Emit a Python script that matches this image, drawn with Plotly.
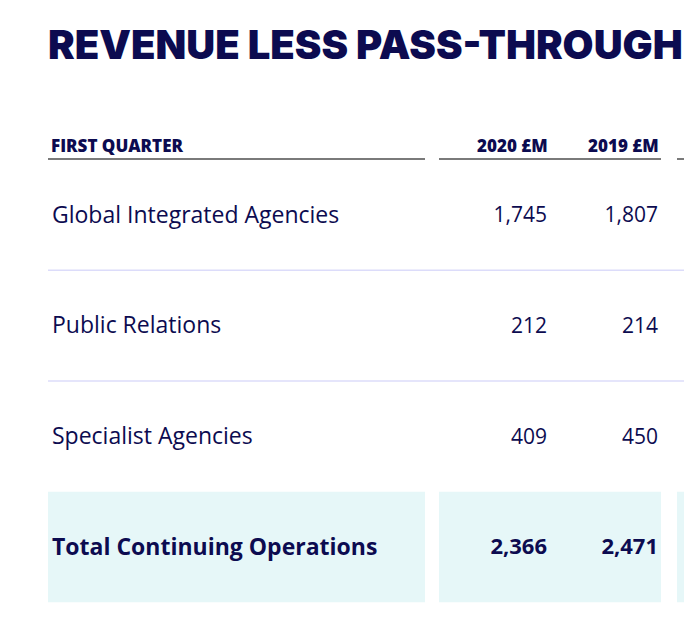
import plotly.graph_objects as go

# Дані таблиці
categories = ["Global Integrated Agencies", "Public Relations",
              "Specialist Agencies", "Total Continuing Operations"]
rev_2020 = [1745, 212, 409, 2366]
rev_2019 = [1807, 214, 450, 2471]
column_labels = ["FIRST QUARTER", "2020 £M", "2019 £M"]
title_text = "REVENUE LESS PASS-THROUGH"

NAVY = "#0c0b50"
FONT = "Open Sans"
TITLE_FONT = "Inter"

# Позиції колонок (в одиницях осі x = пікселі екрана)
LABEL_X = 52
COL_2020_X = 547
COL_2019_X = 658
GROUPS = [(48, 425), (439, 661), (677, 720)]

# невеликий зсув, щоб текст рядків опустився на ~2px
DY = 0.018

fig = go.Figure()

n = len(categories)
weights = [700 if i == n - 1 else 400 for i in range(n)]

# Смуга для підсумкового рядка
for x0, x1 in GROUPS:
    fig.add_shape(type="rect", xref="x", yref="y", x0=x0, x1=x1,
                  y0=n - 1.5 - DY, y1=n - 0.5 - DY, fillcolor="#e6f7f8",
                  line_width=0, layer="below")

# Розділювачі рядків
for i in range(n - 2):
    fig.add_shape(type="line", xref="x", yref="y", x0=48, x1=720,
                  y0=i + 0.5 - DY, y1=i + 0.5 - DY,
                  line=dict(color="#dcdcfa", width=1.5))

# Лінії під заголовками колонок
for x0, x1 in GROUPS:
    fig.add_shape(type="line", xref="x", yref="y", x0=x0, x1=x1,
                  y0=-0.506 - DY, y1=-0.506 - DY,
                  line=dict(color="#7a7a7a", width=2))

# Назви рядків і значення
for w in (400, 700):
    idx = [i for i in range(n) if weights[i] == w]
    fig.add_trace(go.Scatter(
        x=[LABEL_X] * len(idx), y=[categories[i] for i in idx],
        mode="text", text=[categories[i] for i in idx],
        textposition="middle right",
        textfont=dict(family=FONT, size=23, color=NAVY, weight=w),
        showlegend=False, hoverinfo="skip"))
    for col_x, vals in ((COL_2020_X, rev_2020), (COL_2019_X, rev_2019)):
        fig.add_trace(go.Scatter(
            x=[col_x] * len(idx), y=[categories[i] for i in idx],
            mode="text", text=[f"{vals[i]:,}" for i in idx],
            textposition="middle left",
            textfont=dict(family=FONT, size=22 if w == 700 else 21,
                          color=NAVY, weight=w),
            showlegend=False, hoverinfo="skip"))

# Заголовки колонок
for label, x, anchor in zip(column_labels, [LABEL_X, COL_2020_X, COL_2019_X],
                            ["left", "right", "right"]):
    fig.add_annotation(x=x, y=-0.625 - DY, xref="x", yref="y", text=label,
                       showarrow=False, xanchor=anchor, yanchor="middle",
                       xshift=-3 if anchor == "left" else 3,
                       font=dict(family=FONT, size=17, color=NAVY, weight=800))

# Заголовок
fig.add_annotation(x=49, y=-1.536 - DY, xref="x", yref="y", text=title_text,
                   showarrow=False, xanchor="left", yanchor="middle",
                   xshift=-3,
                   font=dict(family=TITLE_FONT, size=40, color=NAVY, weight=900))

# сторінка має відступ 8px, тож фігура менша і осі зсунуті
fig.update_layout(
    width=684, height=618,
    margin=dict(l=0, r=0, t=0, b=0),
    paper_bgcolor="white", plot_bgcolor="white",
    xaxis=dict(range=[8, 692], visible=False, fixedrange=True),
    yaxis=dict(type="category", categoryarray=categories,
               range=[3.714 - DY, -1.870 - DY], visible=False, fixedrange=True),
)

fig.write_html("out.html")
